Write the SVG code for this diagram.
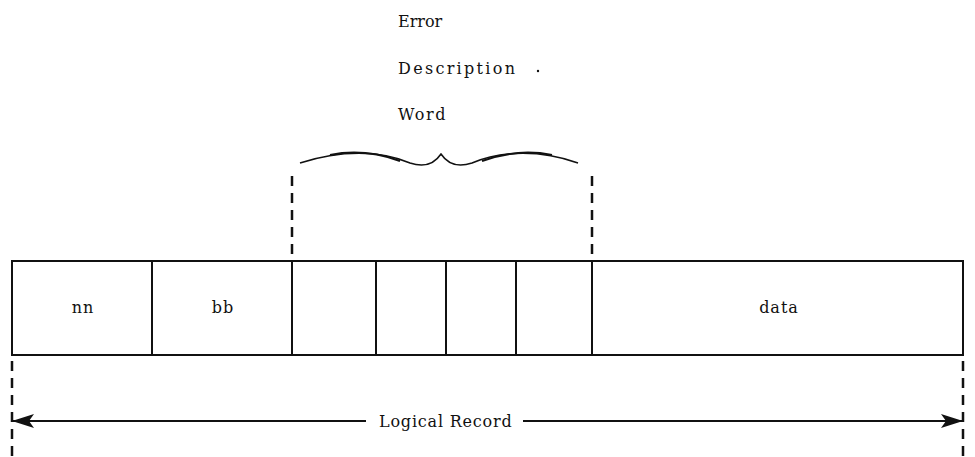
<svg xmlns="http://www.w3.org/2000/svg" width="975" height="457" viewBox="0 0 975 457">
<defs>
<style>
text{font-family:'DejaVu Serif','Liberation Serif',serif;font-size:16px;letter-spacing:1px;fill:#111}
.box{fill:#fff;stroke:#111;stroke-width:2}
.dash{stroke:#111;stroke-width:2.5;stroke-dasharray:10 7;fill:none}
.ln{stroke:#111;stroke-width:2;fill:none}
</style>
<marker id="ah" viewBox="0 0 22 14" refX="21" refY="7" markerWidth="22" markerHeight="14" markerUnits="userSpaceOnUse" orient="auto-start-reverse">
<path d="M0,0 L22,7 L0,14 L5,7 Z" fill="#111"/>
</marker>
</defs>
<rect width="975" height="457" fill="#fff"/>
<g id="label">
<text x="398" y="27" style="letter-spacing:0px">Error</text>
<text x="398" y="74" style="letter-spacing:2.3px">Description</text>
<text x="398" y="120" style="letter-spacing:1.5px">Word</text>
<circle cx="538" cy="71" r="1.2" fill="#111"/>
</g>
<g id="brace">
<path d="M300,163 C340,150 380,150 410,163 C425,168 435,163 441,154 C447,163 457,168 472,163 C502,150 542,150 578,163" fill="none" stroke="#111" stroke-width="1.5"/>
<path d="M330,155 C350,151 375,152 400,161" fill="none" stroke="#111" stroke-width="2"/>
<path d="M482,161 C507,152 532,151 552,155" fill="none" stroke="#111" stroke-width="2"/>
</g>
<g id="record">
<rect class="box" x="12" y="261" width="951" height="94"/>
</g>
<g id="nn"><text x="83" y="313" text-anchor="middle">nn</text></g>
<g id="bb"><line class="ln" x1="152" y1="261" x2="152" y2="355"/><text x="223" y="313" text-anchor="middle">bb</text></g>
<g id="f1"><line class="ln" x1="292" y1="261" x2="292" y2="355"/></g>
<g id="f2"><line class="ln" x1="376" y1="261" x2="376" y2="355"/></g>
<g id="f3"><line class="ln" x1="446" y1="261" x2="446" y2="355"/></g>
<g id="f4"><line class="ln" x1="516" y1="261" x2="516" y2="355"/></g>
<g id="data"><line class="ln" x1="592" y1="261" x2="592" y2="355"/><text x="779" y="313" text-anchor="middle">data</text></g>
<g id="connectors">
<line class="dash" x1="292" y1="176" x2="292" y2="256"/>
<line class="dash" x1="592" y1="176" x2="592" y2="256"/>
<line class="dash" x1="12" y1="361" x2="12" y2="457"/>
<line class="dash" x1="963" y1="361" x2="963" y2="457"/>
<line class="ln" x1="366" y1="421" x2="13" y2="421" marker-end="url(#ah)"/>
<line class="ln" x1="523" y1="421" x2="962" y2="421" marker-end="url(#ah)"/>
<text x="379" y="427" style="letter-spacing:0.8px">Logical Record</text>
</g>
</svg>
